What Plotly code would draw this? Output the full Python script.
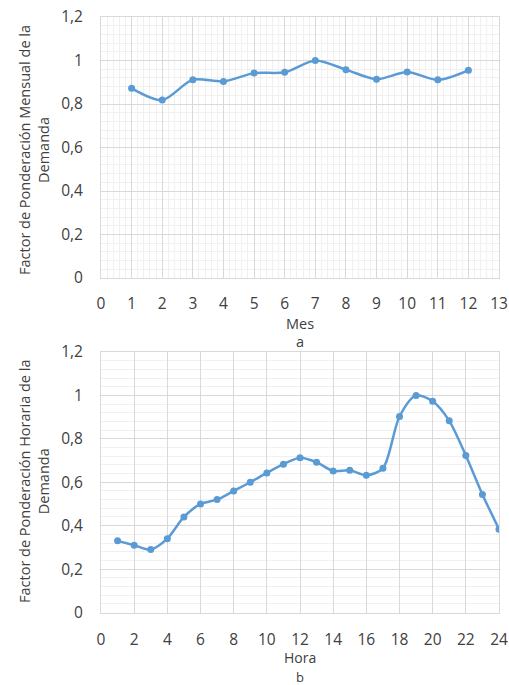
import plotly.graph_objects as go

# Data
meses = [1, 2, 3, 4, 5, 6, 7, 8, 9, 10, 11, 12]
factor_mensual = [0.872, 0.818, 0.912, 0.904, 0.942, 0.946, 1.0, 0.958, 0.914, 0.947, 0.911, 0.955]

horas = list(range(1, 25))
factor_horario = [0.33, 0.31, 0.29, 0.34, 0.44, 0.50, 0.52, 0.56, 0.60, 0.643, 0.683, 0.713,
                  0.692, 0.652, 0.655, 0.632, 0.664, 0.903, 1.0, 0.973, 0.883, 0.723, 0.544, 0.384]

y_ticks = [0, 0.2, 0.4, 0.6, 0.8, 1.0, 1.2]
y_ticktext = ["0", "0,2", "0,4", "0,6", "0,8", "1", "1,2"]
x1_ticks = list(range(0, 14))
x2_ticks = list(range(0, 25, 2))

W, H = 509, 685
BLUE = "#5B9BD5"
FONT = "Open Sans"
TXT = "#404040"
MAJOR = "#d9d9d9"
MINOR = "#f0f0f0"

def py(px):
    return 1 - px / H

def px_x(px):
    return px / W

fig = go.Figure()
fig.add_trace(go.Scatter(x=meses, y=factor_mensual, mode="lines+markers",
                         line=dict(color=BLUE, width=2.5, shape="spline", smoothing=0.8),
                         marker=dict(color=BLUE, size=7), xaxis="x", yaxis="y",
                         showlegend=False))
fig.add_trace(go.Scatter(x=horas, y=factor_horario, mode="lines+markers",
                         line=dict(color=BLUE, width=2.5, shape="spline", smoothing=0.8),
                         marker=dict(color=BLUE, size=7), xaxis="x2", yaxis="y2",
                         showlegend=False))

xdom = [px_x(101), px_x(499)]
common_axis = dict(showline=True, linecolor=MAJOR, mirror=True, gridcolor=MAJOR,
                   zeroline=False, automargin=False,
                   tickfont=dict(family=FONT, size=15.5, color=TXT))

fig.update_layout(
    width=W, height=H,
    margin=dict(l=0, r=0, t=0, b=0),
    paper_bgcolor="white", plot_bgcolor="white",
    separators=",.",
    font=dict(family=FONT, color=TXT),
    xaxis=dict(domain=xdom, range=[0, 13], tickmode="array", tickvals=x1_ticks,
               ticks="outside", ticklen=11, tickcolor="rgba(0,0,0,0)",
               minor=dict(dtick=0.2, showgrid=True, gridcolor=MINOR, ticks=""),
               anchor="y", **common_axis),
    yaxis=dict(domain=[py(278), py(17)], range=[0, 1.2], tickmode="array",
               tickvals=y_ticks, ticktext=y_ticktext,
               ticks="outside", ticklen=14, tickcolor="rgba(0,0,0,0)",
               minor=dict(dtick=0.04, showgrid=True, gridcolor=MINOR, ticks=""),
               anchor="x", **common_axis),
    xaxis2=dict(domain=xdom, range=[0, 24], tickmode="array", tickvals=x2_ticks,
                ticks="outside", ticklen=13, tickcolor="rgba(0,0,0,0)",
                anchor="y2", **common_axis),
    yaxis2=dict(domain=[py(612.5), py(352)], range=[0, 1.2], tickmode="array",
                tickvals=y_ticks, ticktext=y_ticktext,
                ticks="outside", ticklen=14, tickcolor="rgba(0,0,0,0)",
                minor=dict(dtick=0.04, showgrid=True, gridcolor=MINOR, ticks=""),
                anchor="x2", **common_axis),
)

def ann(text, x, y, size=14, angle=0):
    fig.add_annotation(text=text, x=px_x(x), y=py(y), xref="paper", yref="paper",
                       showarrow=False, textangle=angle, xanchor="center", yanchor="middle",
                       borderpad=0,
                       font=dict(family=FONT, size=size, color=TXT))

ann("Factor de Ponderación Mensual de la<br>Demanda", 34, 150, size=14.5, angle=-90)
ann("Factor de Ponderación Horaria de la<br>Demanda", 34, 482, size=14.5, angle=-90)
ann("Mes", 300, 323, size=14.5)
ann("a", 300, 342, size=14.5)
ann("Hora", 300, 657.5, size=14)
ann("b", 300, 677, size=13)

fig.write_html("out.html")
